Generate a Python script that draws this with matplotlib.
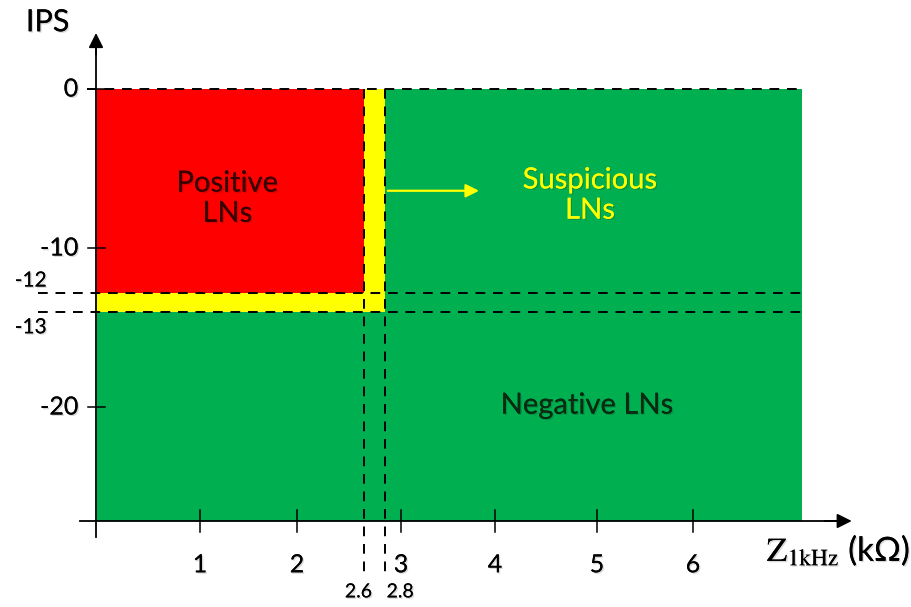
import matplotlib
matplotlib.use("Agg")
import matplotlib.pyplot as plt
import matplotlib.patheffects as pe
import numpy as np
from matplotlib.patches import Rectangle

plt.rcParams['font.family'] = ['Lato', 'DejaVu Sans']
plt.rcParams['mathtext.fontset'] = 'stix'

# thresholds of the decision chart
z_cut = [2.6, 2.8]          # kOhm
ips_cut = [-12, -13]        # IPS
z_max = 7.1
ips_min = -27.2
x_ticks = [1, 2, 3, 4, 5, 6]
y_ticks = [0, -10, -20]
arrow_y = -6.4

RED = '#FF0000'
YELLOW = '#FFFF00'
GREEN = '#00B050'

# the drawing is schematic: neither axis is linear around the cut-offs
ips_anchor = np.array([-32.6, -27.2, -20, -13, -12, -10, 0, 5.6])
ips_pos = -np.array([607, 521, 407, 312, 293, 248, 89, 0], dtype=float)
z_anchor = np.array([-0.98, 0, 1, 2, 2.6, 2.8, 3, 4, 5, 6, 8.21])
z_pos = np.array([0, 97, 200, 297, 364, 385, 401, 495, 597, 693, 912], dtype=float)


def yf(y):
    return np.interp(y, ips_anchor, ips_pos)


def yi(p):
    return np.interp(p, ips_pos, ips_anchor)


def xf(x):
    return np.interp(x, z_anchor, z_pos)


def xi(p):
    return np.interp(p, z_pos, z_anchor)


fig = plt.figure(figsize=(9.12, 6.07), dpi=100)
ax = fig.add_axes([0, 0, 1, 1])
ax.set_yscale('function', functions=(yf, yi))
ax.set_xscale('function', functions=(xf, xi))
ax.set_xlim(-0.98, 8.21)
ax.set_ylim(-32.6, 5.6)
ax.axis('off')

shadow = [pe.withSimplePatchShadow(offset=(1, -1), alpha=0.15, shadow_rgbFace='black'), pe.Normal()]

# regions
ax.add_patch(Rectangle((0, ips_min), z_max, -ips_min, color=GREEN, lw=0, zorder=1))
ax.add_patch(Rectangle((0, ips_cut[1]), z_cut[1], -ips_cut[1], color=YELLOW, lw=0, zorder=2))
ax.add_patch(Rectangle((0, ips_cut[0]), z_cut[0], -ips_cut[0], color=RED, lw=0, zorder=3))

# dashed guide lines
dash = dict(color='black', lw=1.4, ls=(0, (5, 4)), zorder=5)
ax.plot([-0.1, z_max], [0, 0], **dash)
for yc in ips_cut:
    ax.plot([-0.6, z_max], [yc, yc], **dash)
for xc in z_cut:
    ax.plot([xc, xc], [0, -30.8], **dash)

# axes with arrows
ax.plot([-0.17, 7.5], [ips_min, ips_min], color='black', lw=1.3, zorder=6)
ax.annotate('', xy=(7.63, ips_min), xytext=(7.3, ips_min),
            arrowprops=dict(arrowstyle='-|>', color='black', lw=1.3, mutation_scale=22), zorder=6)
ax.plot([-0.01, -0.01], [-28.2, 2.8], color='black', lw=1.3, zorder=6)
ax.annotate('', xy=(-0.01, 3.7), xytext=(-0.01, 2.0),
            arrowprops=dict(arrowstyle='-|>', color='black', lw=1.3, mutation_scale=22), zorder=6)

# ticks
for xt in x_ticks:
    ax.plot([xt, xt], [ips_min + 0.7, ips_min - 0.7], color='black', lw=1.1, zorder=6)
    ax.text(xt, ips_min - 2.75, str(xt), ha='center', va='center', fontsize=18,
            path_effects=shadow)
for yt in y_ticks:
    ax.plot([-0.09, 0.08], [yt, yt], color='black', lw=1.1, zorder=6)
    ax.text(-0.19, yt, str(yt), ha='right', va='center', fontsize=18, path_effects=shadow)

ax.annotate(str(ips_cut[0]), xy=(-0.67, ips_cut[0]), xytext=(0, 9), textcoords='offset points',
            ha='center', va='center', fontsize=15, path_effects=shadow)
ax.annotate(str(ips_cut[1]), xy=(-0.67, ips_cut[1]), xytext=(0, -11), textcoords='offset points',
            ha='center', va='center', fontsize=15, path_effects=shadow)
ax.text(2.55, -31.65, str(z_cut[0]), ha='center', va='center', fontsize=14, path_effects=shadow)
ax.text(2.99, -31.65, str(z_cut[1]), ha='center', va='center', fontsize=14, path_effects=shadow)

ax.text(-0.5, 4.2, 'IPS', ha='center', va='center', fontsize=22, path_effects=shadow)
ax.text(7.47, -29.05, r'$\mathrm{Z}_{\mathrm{1kHz}}$ (kΩ)', ha='center', va='center',
        fontsize=24, path_effects=shadow)

# region labels
ax.text(1.28, -6.9, 'Positive\nLNs', ha='center', va='center', fontsize=21,
        color='#3A0000', linespacing=1.2, zorder=7, path_effects=shadow)
ax.text(4.93, -6.7, 'Suspicious\nLNs', ha='center', va='center', fontsize=21,
        color=YELLOW, linespacing=1.2, zorder=7, path_effects=shadow)
ax.text(4.9, -19.9, 'Negative LNs', ha='center', va='center', fontsize=21,
        color='#0A2A12', zorder=7, path_effects=shadow)

ax.annotate('', xy=(3.86, arrow_y), xytext=(z_cut[1], arrow_y),
            arrowprops=dict(arrowstyle='-|>', color=YELLOW, lw=1.6, mutation_scale=20), zorder=7)

fig.savefig('out.png', dpi=100)
